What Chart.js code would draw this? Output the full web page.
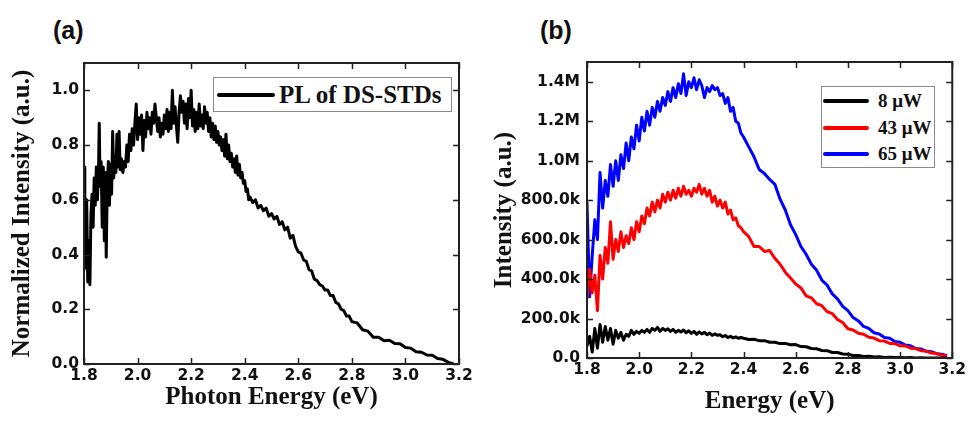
<!DOCTYPE html>
<html lang="en">
<head>
  <meta charset="UTF-8">
  <title>PL spectra</title>
  <script src="https://cdn.jsdelivr.net/npm/chart.js"></script>
  <style>
    body {
      margin: 0;
      background: #ffffff;
      width: 969px;
      height: 421px;
      position: relative;
      overflow: hidden;
    }

    canvas {
      position: absolute;
      top: 0;
    }

    #chartA { left: 0; }
    #chartB { left: 480px; }

    .panel-tag {
      position: absolute;
      top: 16px;
      font-family: 'Liberation Sans', Arial, sans-serif;
      font-weight: bold;
      font-size: 25px;
      color: #111;
    }

    .legend {
      position: absolute;
      border: 1px solid #8a8a8a;
      background: #fff;
      font-family: 'Liberation Serif', 'Times New Roman', serif;
      font-weight: bold;
      color: #111;
    }

    .legend .row {
      position: absolute;
      left: 0;
      display: flex;
      align-items: center;
      white-space: nowrap;
    }

    .legend .swatch {
      display: inline-block;
      height: 4px;
      border-radius: 2px;
    }
  </style>
</head>
<body>

  <div class="panel-tag" style="left:53px">(a)</div>
  <div class="panel-tag" style="left:540px">(b)</div>

  <canvas id="chartA" width="480" height="421"></canvas>
  <canvas id="chartB" width="489" height="421"></canvas>

  <div class="legend" id="legendA" style="left:213px; top:77px; width:237px; height:33px;"></div>
  <div class="legend" id="legendB" style="left:821px; top:86px; width:112px; height:80px;"></div>

  <script>
    // ---- panel (a): normalized PL ----
    const energyA = [
      1.800, 1.803, 1.806, 1.810, 1.814, 1.818, 1.822, 1.826, 1.830, 1.834, 1.838, 1.842, 1.846, 1.850, 1.854, 1.857,
      1.860, 1.864, 1.868, 1.872, 1.876, 1.880, 1.883, 1.887, 1.891, 1.895, 1.899, 1.903, 1.907, 1.911, 1.915, 1.919,
      1.923, 1.927, 1.931, 1.935, 1.940, 1.945, 1.950, 1.955, 1.960, 1.965, 1.970, 1.975, 1.980, 1.985, 1.990, 1.995,
      2.000, 2.005, 2.010, 2.015, 2.020, 2.025, 2.030, 2.035, 2.040, 2.045, 2.050, 2.055, 2.060, 2.065, 2.070, 2.075,
      2.080, 2.085, 2.090, 2.095, 2.100, 2.105, 2.110, 2.115, 2.120, 2.125, 2.130, 2.135, 2.140, 2.145, 2.150, 2.155,
      2.160, 2.165, 2.170, 2.175, 2.180, 2.185, 2.190, 2.195, 2.200, 2.205, 2.210, 2.215, 2.220, 2.225, 2.230, 2.235,
      2.240, 2.245, 2.250, 2.255, 2.260, 2.265, 2.270, 2.275, 2.280, 2.285, 2.290, 2.295, 2.300, 2.305, 2.310, 2.315,
      2.320, 2.325, 2.330, 2.335, 2.340, 2.345, 2.350, 2.355, 2.360, 2.365, 2.370, 2.375, 2.380, 2.385, 2.390, 2.395,
      2.400, 2.405, 2.410, 2.415, 2.420, 2.430, 2.440, 2.450, 2.460, 2.470, 2.480, 2.490, 2.500, 2.510, 2.520, 2.530,
      2.540, 2.550, 2.560, 2.570, 2.580, 2.590, 2.600, 2.610, 2.620, 2.630, 2.640, 2.650, 2.660, 2.670, 2.680, 2.690,
      2.700, 2.710, 2.720, 2.730, 2.740, 2.750, 2.760, 2.770, 2.780, 2.790, 2.800, 2.820, 2.840, 2.860, 2.880, 2.900,
      2.920, 2.940, 2.960, 2.980, 3.000, 3.020, 3.040, 3.060, 3.080, 3.100, 3.120, 3.140, 3.160, 3.180
    ];
    const intensityA = [
      0.72, 0.55, 0.35, 0.60, 0.30, 0.45, 0.29, 0.55, 0.62, 0.50, 0.68, 0.58, 0.72, 0.60, 0.70, 0.88,
      0.65, 0.74, 0.50, 0.72, 0.45, 0.70, 0.39, 0.66, 0.74, 0.58, 0.73, 0.62, 0.85, 0.68, 0.76, 0.70,
      0.84, 0.72, 0.85, 0.71, 0.75, 0.70, 0.74, 0.72, 0.80, 0.74, 0.84, 0.78, 0.86, 0.80, 0.88, 0.95,
      0.82, 0.90, 0.84, 0.91, 0.78, 0.89, 0.83, 0.92, 0.86, 0.90, 0.84, 0.92, 0.88, 0.95, 0.90, 0.85,
      0.90, 0.83, 0.88, 0.84, 0.91, 0.86, 0.93, 0.85, 0.92, 0.86, 1.00, 0.88, 0.94, 0.87, 0.81, 0.92,
      0.98, 0.92, 0.96, 0.88, 0.95, 0.86, 0.97, 0.90, 1.00, 0.87, 0.93, 0.85, 0.92, 0.86, 0.95, 0.87,
      0.91, 0.86, 0.94, 0.88, 0.92, 0.85, 0.90, 0.83, 0.88, 0.82, 0.87, 0.81, 0.85, 0.80, 0.83, 0.78,
      0.82, 0.76, 0.84, 0.75, 0.80, 0.74, 0.77, 0.72, 0.75, 0.70, 0.76, 0.69, 0.73, 0.68, 0.70, 0.66,
      0.67, 0.63, 0.64, 0.60, 0.61, 0.59, 0.60, 0.57, 0.58, 0.56, 0.57, 0.54, 0.55, 0.53, 0.54, 0.51,
      0.52, 0.49, 0.50, 0.46, 0.47, 0.43, 0.41, 0.405, 0.38, 0.375, 0.345, 0.34, 0.31, 0.305, 0.29, 0.285,
      0.27, 0.27, 0.25, 0.25, 0.225, 0.22, 0.20, 0.195, 0.175, 0.175, 0.155, 0.15, 0.125, 0.12, 0.098, 0.098,
      0.085, 0.087, 0.075, 0.074, 0.06, 0.058, 0.045, 0.043, 0.033, 0.032, 0.02, 0.017, 0.006, 0.0
    ];
    const xTicksA = [1.8, 2.0, 2.2, 2.4, 2.6, 2.8, 3.0, 3.2];
    const yTicksA = [0.0, 0.2, 0.4, 0.6, 0.8, 1.0];
    const seriesA = ['PL of DS-STDs'];

    // ---- panel (b): power dependent PL (intensity in thousands) ----
    const energyB = [
      1.80, 1.81, 1.82, 1.83, 1.84, 1.85, 1.86, 1.87, 1.88, 1.89, 1.90, 1.91, 1.92, 1.93, 1.94, 1.95,
      1.96, 1.97, 1.98, 1.99, 2.00, 2.01, 2.02, 2.03, 2.04, 2.05, 2.06, 2.07, 2.08, 2.09, 2.10, 2.11,
      2.12, 2.13, 2.14, 2.15, 2.16, 2.17, 2.18, 2.19, 2.20, 2.21, 2.22, 2.23, 2.24, 2.25, 2.26, 2.27,
      2.28, 2.29, 2.30, 2.31, 2.32, 2.33, 2.34, 2.35, 2.36, 2.37, 2.38, 2.39, 2.40, 2.42, 2.44, 2.46,
      2.48, 2.50, 2.52, 2.54, 2.56, 2.58, 2.60, 2.62, 2.64, 2.66, 2.68, 2.70, 2.72, 2.74, 2.76, 2.78,
      2.80, 2.82, 2.84, 2.86, 2.88, 2.90, 2.92, 2.94, 2.96, 2.98, 3.00, 3.02, 3.04, 3.06, 3.08, 3.10,
      3.12, 3.14, 3.16, 3.18
    ];
    const p8uW = [
      60, 110, 30, 150, 50, 170, 80, 160, 90, 150, 70, 140, 100, 130, 90, 120,
      110, 140, 120, 135, 125, 140, 130, 145, 130, 150, 140, 155, 135, 150, 140, 148,
      135, 145, 130, 140, 132, 142, 128, 138, 125, 135, 120, 132, 122, 130, 118, 126,
      115, 122, 115, 118, 108, 114, 104, 110, 102, 107, 100, 104, 100, 94, 95, 88,
      88, 80, 80, 73, 74, 67, 68, 58, 57, 48, 47, 38, 37, 28, 28, 20,
      19, 13, 13, 8, 9, 5, 6, 3, 4, 2, 3, 1, 2, 0, 1, 0,
      0, 0, 0, 0
    ];
    const p43uW = [
      300, 450, 330, 420, 240, 520, 400, 560, 480, 690, 500, 600, 540, 640, 560, 620,
      580, 660, 600, 690, 640, 720, 680, 760, 720, 790, 740, 800, 760, 830, 790, 840,
      800, 850, 810, 860, 820, 870, 830, 850, 820, 860, 840, 880, 830, 860, 820, 850,
      790, 820, 770, 800, 760, 790, 730, 750, 700, 710, 670, 660, 640, 615, 565, 565,
      540, 545, 505, 475, 435, 405, 375, 355, 315, 305, 275, 265, 235, 225, 195, 180,
      148, 142, 125, 120, 105, 101, 88, 86, 74, 73, 62, 61, 50, 48, 37, 35,
      25, 23, 14, 10
    ];
    const p65uW = [
      790, 310, 520, 700, 600, 940, 760, 900, 820, 980, 870, 1000, 900, 1030, 960, 1090,
      1000, 1120, 1060, 1180, 1100, 1220, 1150, 1250, 1180, 1270, 1220, 1300, 1250, 1320, 1280, 1350,
      1300, 1370, 1320, 1390, 1340, 1440, 1330, 1400, 1370, 1420, 1360, 1410, 1380, 1320, 1370, 1350,
      1380, 1360, 1370, 1330, 1340, 1290, 1320, 1250, 1270, 1200, 1190, 1140, 1120, 1070, 1020, 955,
      935, 905, 880, 805, 750, 675, 625, 565, 525, 475, 445, 395, 370, 325, 300, 262,
      240, 205, 188, 160, 150, 128, 122, 104, 100, 84, 80, 66, 62, 48, 46, 34,
      32, 22, 19, 12
    ];
    const xTicksB = [1.8, 2.0, 2.2, 2.4, 2.6, 2.8, 3.0, 3.2];
    const yTicksB = [0, 200, 400, 600, 800, 1000, 1200, 1400];
    const seriesB = ['8 μW', '43 μW', '65 μW'];
    const colorsB = ['#000000', '#ff0000', '#0000ff'];

    const tickFont = { family: "'DejaVu Sans', sans-serif", size: 15.5, weight: 'bold' };
    const titleFont = { family: "'Liberation Serif', 'Times New Roman', serif", size: 25, weight: 'bold' };

    // box around the plot with inward ticks on all four sides
    const framePlugin = {
      id: 'frame',
      afterDraw(chart) {
        const { ctx, chartArea: a, scales } = chart;
        const x = scales.x, y = scales.y;
        ctx.save();
        ctx.strokeStyle = '#222';
        ctx.lineWidth = 2;
        ctx.strokeRect(a.left, a.top, a.right - a.left, a.bottom - a.top);
        ctx.lineWidth = 1.5;
        ctx.beginPath();
        x.ticks.forEach(t => {
          const px = Math.round(x.getPixelForValue(t.value)) + 0.5;
          ctx.moveTo(px, a.bottom); ctx.lineTo(px, a.bottom - 6);
          ctx.moveTo(px, a.top); ctx.lineTo(px, a.top + 6);
        });
        y.ticks.forEach(t => {
          const py = Math.round(y.getPixelForValue(t.value)) + 0.5;
          ctx.moveTo(a.left, py); ctx.lineTo(a.left + 6, py);
          ctx.moveTo(a.right, py); ctx.lineTo(a.right - 6, py);
        });
        ctx.stroke();
        ctx.restore();
      }
    };

    function toPoints(xs, ys) {
      return xs.map((v, i) => ({ x: v, y: ys[i] }));
    }

    function makeOptions(cfg) {
      return {
        responsive: false,
        animation: false,
        layout: { padding: cfg.padding },
        plugins: { legend: { display: false }, tooltip: { enabled: false } },
        elements: { point: { radius: 0 }, line: { tension: 0, borderJoinStyle: 'round' } },
        scales: {
          x: {
            type: 'linear',
            min: 1.8,
            max: 3.2,
            grid: { display: false, drawTicks: false },
            border: { display: false },
            afterBuildTicks: s => { s.ticks = cfg.xTicks.map(v => ({ value: v })); },
            afterFit: s => { s.height = cfg.xHeight; },
            ticks: { color: '#111', font: tickFont, padding: 3, maxRotation: 0, callback: v => v.toFixed(1) },
            title: { display: true, text: cfg.xTitle, color: '#111', font: titleFont, padding: { top: 0, bottom: cfg.xTitlePad } }
          },
          y: {
            type: 'linear',
            min: 0,
            max: cfg.yMax,
            grid: { display: false, drawTicks: false },
            border: { display: false },
            afterBuildTicks: s => { s.ticks = cfg.yTicks.map(v => ({ value: v })); },
            afterFit: s => { s.width = cfg.yWidth; },
            ticks: { color: '#111', font: tickFont, padding: cfg.yTickPad, callback: cfg.yFormat },
            title: { display: true, text: cfg.yTitle, color: '#111', font: titleFont, padding: { top: cfg.yTitlePad, bottom: 0 } }
          }
        }
      };
    }

    new Chart(document.getElementById('chartA'), {
      type: 'line',
      data: {
        datasets: [{
          label: seriesA[0],
          data: toPoints(energyA, intensityA),
          borderColor: '#000000',
          borderWidth: 3
        }]
      },
      options: makeOptions({
        padding: { top: 63, right: 21, left: 0, bottom: 0 },
        xTicks: xTicksA, yTicks: yTicksA, yMax: 1.1,
        xHeight: 57, yWidth: 84, yTickPad: 5,
        xTitle: 'Photon Energy (eV)', yTitle: 'Normalized Intensity (a.u.)',
        xTitlePad: 8, yTitlePad: 8,
        yFormat: v => v.toFixed(1)
      }),
      plugins: [framePlugin]
    });

    new Chart(document.getElementById('chartB'), {
      type: 'line',
      data: {
        datasets: [p8uW, p43uW, p65uW].map((vals, i) => ({
          label: seriesB[i],
          data: toPoints(energyB, vals),
          borderColor: colorsB[i],
          borderWidth: 3
        }))
      },
      options: makeOptions({
        padding: { top: 62, right: 13, left: 0, bottom: 0 },
        xTicks: xTicksB, yTicks: yTicksB, yMax: 1500,
        xHeight: 63, yWidth: 107, yTickPad: 7,
        xTitle: 'Energy (eV)', yTitle: 'Intensity (a.u.)',
        xTitlePad: 4, yTitlePad: 10,
        yFormat: v => v === 0 ? '0.0' : (v >= 1000 ? (v / 1000).toFixed(1) + 'M' : v.toFixed(1) + 'k')
      }),
      plugins: [framePlugin]
    });

    // boxed legends like the original figure
    function buildLegend(id, names, colors, cfg) {
      const box = document.getElementById(id);
      names.forEach((name, i) => {
        const row = document.createElement('div');
        row.className = 'row';
        row.style.top = (cfg.firstRow + i * cfg.rowGap) + 'px';
        row.style.fontSize = cfg.fontSize + 'px';
        row.style.height = cfg.rowGap + 'px';
        const sw = document.createElement('span');
        sw.className = 'swatch';
        sw.style.width = cfg.lineLen + 'px';
        sw.style.marginLeft = cfg.lineLeft + 'px';
        sw.style.marginRight = cfg.gap + 'px';
        sw.style.background = colors[i];
        const label = document.createElement('span');
        label.textContent = name;
        row.appendChild(sw);
        row.appendChild(label);
        box.appendChild(row);
      });
    }

    buildLegend('legendA', seriesA, ['#000000'], { firstRow: 0, rowGap: 33, fontSize: 25, lineLen: 58, lineLeft: 3, gap: 4 });
    buildLegend('legendB', seriesB, colorsB, { firstRow: 1, rowGap: 26.5, fontSize: 19, lineLen: 46, lineLeft: 1, gap: 9 });
  </script>

</body>
</html>
